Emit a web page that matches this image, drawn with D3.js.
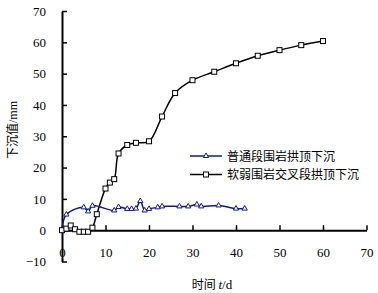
<!DOCTYPE html>
<html>
<head>
<meta charset="utf-8">
<script src="https://cdn.jsdelivr.net/npm/d3@7"></script>
<style>
  body { margin: 0; background: #fff; }
  text { font-family: "Liberation Serif", "DejaVu Serif", serif; }
  .cjk { font-family: "Noto Sans CJK SC", sans-serif; }
</style>
</head>
<body>
<svg id="chart" width="378" height="293"></svg>
<script>
// data
const NORMAL_T = [0, 1, 5, 6, 7, 12, 13, 15, 16, 17, 18, 19, 20, 22, 23, 27, 29, 31, 32, 36, 40, 42];
const NORMAL_V = [0, 5, 7.3, 6.0, 7.8, 6.3, 7.4, 6.8, 6.8, 6.9, 9.3, 6.3, 6.8, 7.3, 7.6, 7.6, 7.6, 8.2, 7.6, 7.9, 6.9, 6.9];
const WEAK_T = [0, 1, 2, 3, 4, 5, 6, 7, 8, 10, 11, 12, 13, 15, 17, 20, 23, 26, 30, 35, 40, 45, 50, 55, 60];
const WEAK_V = [0, 0.5, 1.5, 0.3, -0.5, -0.5, -0.5, 0.8, 5.1, 13.3, 15.2, 16.3, 24.5, 27.2, 27.9, 28.4, 36.3, 43.8, 47.9, 50.6, 53.3, 55.7, 57.5, 59.1, 60.4];
const X_TICKS = [0, 10, 20, 30, 40, 50, 60, 70];
const Y_TICKS = [-10, 0, 10, 20, 30, 40, 50, 60, 70];
const SERIES_NAMES = ["普通段围岩拱顶下沉", "软弱围岩交叉段拱顶下沉"];
const BLUE = "#101a8c";
const SERIF = "'Liberation Serif', 'DejaVu Serif', serif";

const svg = d3.select("#chart");
const xScale = d3.scaleLinear().domain([0, 70]).range([62, 366.5]);
const yScale = d3.scaleLinear().domain([-10, 70]).range([261.5, 11]);

// y axis (ticks pointing inwards)
const yAxis = svg.append("g")
	.attr("transform", "translate(" + xScale(0) + ",0)")
	.call(d3.axisLeft(yScale).tickValues(Y_TICKS).tickSizeInner(-5).tickSizeOuter(0).tickPadding(16)
		.tickFormat(d => d < 0 ? "\u221210" : d));
yAxis.attr("font-family", SERIF);
yAxis.select(".domain").attr("stroke-width", 2);
yAxis.selectAll(".tick line").attr("stroke-width", 1.5);
yAxis.selectAll("text").attr("font-size", 13).attr("fill", "#000");

// x axis on the zero line, ticks point up, labels further down
const xAxis = svg.append("g")
	.attr("transform", "translate(0," + yScale(0) + ")")
	.call(d3.axisBottom(xScale).tickValues(X_TICKS).tickSizeInner(-5).tickSizeOuter(0).tickPadding(0));
xAxis.attr("font-family", SERIF);
xAxis.select(".domain").attr("stroke-width", 2);
xAxis.selectAll(".tick line").attr("stroke-width", 1.5);
xAxis.selectAll("text").attr("font-size", 13).attr("fill", "#000").attr("dy", 0).attr("y", 27);

// axis titles
svg.append("text")
	.attr("x", 212).attr("y", 289)
	.attr("text-anchor", "middle")
	.attr("font-size", 12)
	.call(t => {
		t.append("tspan").attr("class", "cjk").text("时间 ");
		t.append("tspan").attr("font-style", "italic").attr("font-size", 13).text("t");
		t.append("tspan").attr("font-size", 13).text("/d");
	});

svg.append("text")
	.attr("transform", "translate(17,130) rotate(-90)")
	.attr("text-anchor", "middle")
	.attr("font-size", 12)
	.call(t => {
		t.append("tspan").attr("class", "cjk").text("下沉值");
		t.append("tspan").attr("font-size", 12).text("/mm");
	});

const line = d3.line()
	.x(d => xScale(d[0]))
	.y(d => yScale(d[1]))
	.curve(d3.curveCatmullRom.alpha(0.5));

const normal = NORMAL_T.map((t, i) => [t, NORMAL_V[i]]);
const weak = WEAK_T.map((t, i) => [t, WEAK_V[i]]);

svg.append("path").datum(weak)
	.attr("d", line).attr("fill", "none").attr("stroke", "#000").attr("stroke-width", 1.5);
svg.append("path").datum(normal)
	.attr("d", line).attr("fill", "none").attr("stroke", BLUE).attr("stroke-width", 1.5);

const tri = d3.symbol().type(d3.symbolTriangle).size(12);

svg.selectAll(".tri").data(normal).enter().append("path")
	.attr("class", "tri")
	.attr("d", tri)
	.attr("transform", d => "translate(" + xScale(d[0]) + "," + yScale(d[1]) + ")")
	.attr("fill", "#fff").attr("stroke", BLUE).attr("stroke-width", 1);

svg.selectAll(".sq").data(weak).enter().append("rect")
	.attr("class", "sq")
	.attr("x", d => xScale(d[0]) - 2.5)
	.attr("y", d => yScale(d[1]) - 2.5)
	.attr("width", 5).attr("height", 5)
	.attr("fill", "#fff").attr("stroke", "#000").attr("stroke-width", 1);

// legend
const legend = svg.append("g");
[BLUE, "#000"].forEach((c, i) => {
	const y = 156 + i * 18.5;
	legend.append("line").attr("x1", 190).attr("x2", 222).attr("y1", y).attr("y2", y)
		.attr("stroke", c).attr("stroke-width", 1.5);
	if (i == 0) {
		legend.append("path").attr("d", tri).attr("transform", "translate(206," + y + ")")
			.attr("fill", "#fff").attr("stroke", c);
	} else {
		legend.append("rect").attr("x", 203.5).attr("y", y - 2.5).attr("width", 5).attr("height", 5)
			.attr("fill", "#fff").attr("stroke", c);
	}
	legend.append("text").attr("class", "cjk")
		.attr("x", 227).attr("y", y + 4.5)
		.attr("font-size", 12)
		.text(SERIES_NAMES[i]);
});
</script>
</body>
</html>
